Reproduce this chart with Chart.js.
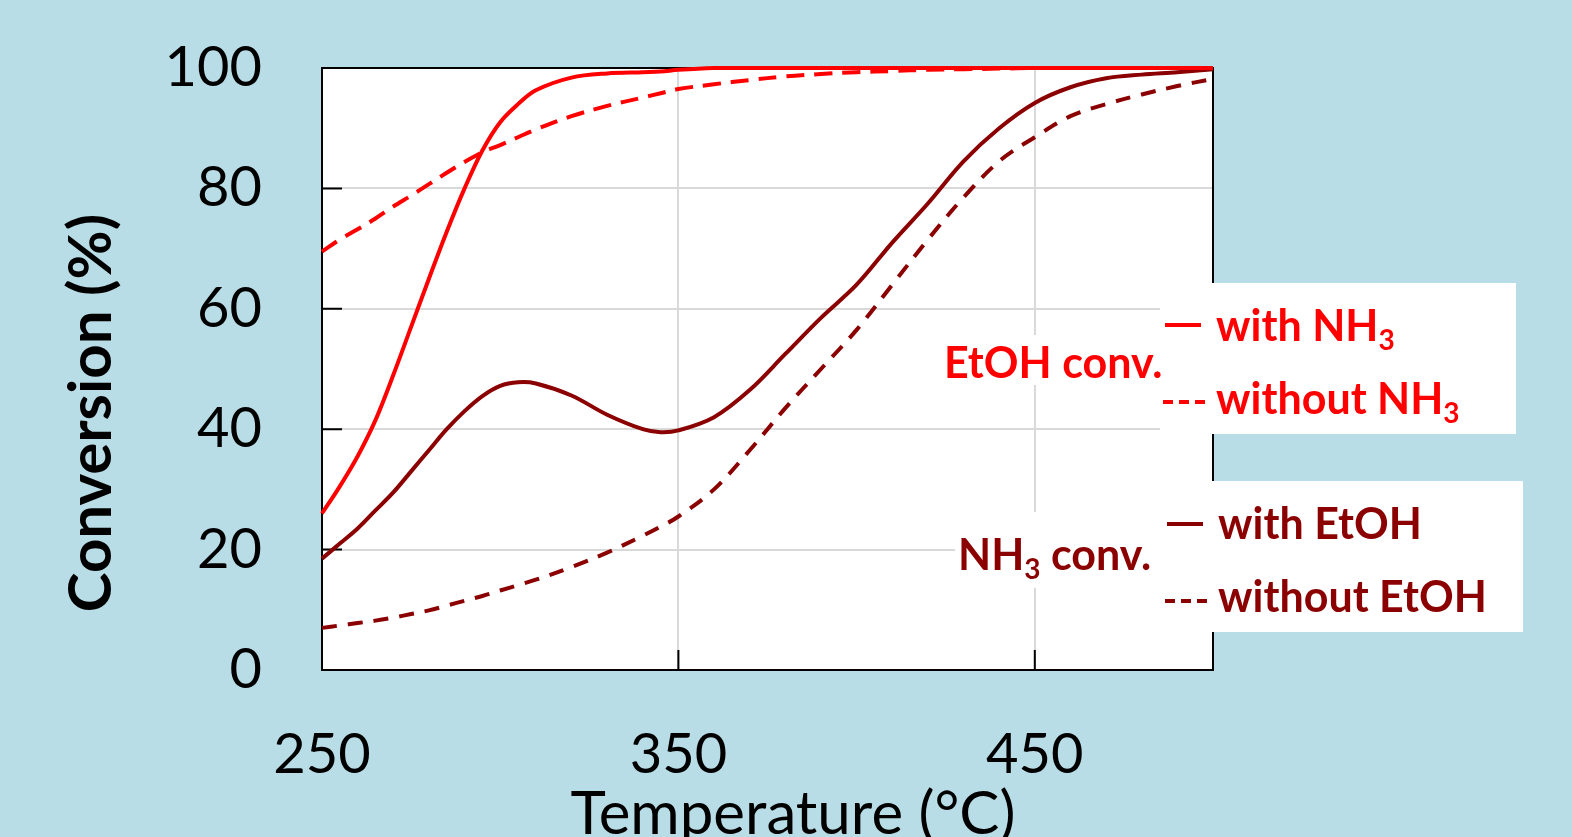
<!DOCTYPE html>
<html>
<head>
<meta charset="utf-8">
<script src="https://cdn.jsdelivr.net/npm/chart.js"></script>
<style>
  html, body { margin: 0; padding: 0; background: #b8dde6; }
  canvas { display: block; }
</style>
</head>
<body>
<canvas id="chart" width="1572" height="837"></canvas>
<script>
// temperatures (°C) where the curves were read
var temps = [250, 255, 260, 265, 270, 275, 280, 285, 290, 295, 300, 305, 310, 320, 330, 340, 345, 350, 360, 370, 380, 390, 400, 410, 420, 430, 440, 450, 460, 470, 480, 490, 500];

// EtOH conversion (%)
var etohWithNH3 = [26, 30.5, 35.5, 41.5, 49, 57, 65, 72.8, 80, 86.3, 91, 94, 96.3, 98.4, 99.1, 99.3, 99.4, 99.7, 100, 100, 100, 100, 100, 100, 100, 100, 100, 100, 100, 100, 100, 100, 100];
var etohWithoutNH3 = [69.5, 71.5, 73.2, 75, 77, 78.8, 80.7, 82.6, 84.4, 86, 87.2, 88.5, 89.8, 92, 93.7, 95.1, 95.8, 96.5, 97.3, 98, 98.6, 99, 99.3, 99.5, 99.7, 99.8, 99.9, 100, 100, 100, 100, 100, 100];

// NH3 conversion (%)
var nh3WithEtOH = [18.5, 21, 23.5, 26.5, 29.5, 33, 36.5, 40, 43, 45.5, 47.2, 47.8, 47.6, 45.6, 42.4, 40, 39.5, 39.8, 42, 46.5, 52.5, 58.5, 64, 71, 77.5, 84.5, 90, 94.2, 96.8, 98.3, 98.9, 99.3, 99.8];
var nh3WithoutEtOH = [7, 7.4, 7.8, 8.2, 8.7, 9.3, 9.9, 10.7, 11.5, 12.3, 13.2, 14.1, 15, 17.1, 19.5, 22.3, 23.8, 25.5, 30, 36.5, 43.5, 50, 56.5, 64, 71.5, 78.5, 84.5, 88.5, 92, 94, 95.6, 97, 98.2];

var xTicks = [250, 350, 450];
var yTicks = [0, 20, 40, 60, 80, 100];

var RED = "#ff0000";
var DARK = "#8b0000";
var FONT = "Lato, 'Open Sans', sans-serif";

function pts(ys) {
  return temps.map(function (t, i) { return { x: t, y: ys[i] }; });
}

function line(label, ys, color, dash) {
  return {
    label: label,
    data: pts(ys),
    borderColor: color,
    borderWidth: 4,
    borderDash: dash || [],
    pointRadius: 0,
    fill: false,
    tension: 0.35,
    clip: 4
  };
}

// text with a subscript "3" after NH
function subText(ctx, parts, x, y, size) {
  parts.forEach(function (p) {
    if (p.sub) {
      ctx.font = "bold " + Math.round(size * 0.65) + "px " + FONT;
      ctx.fillText(p.t, x, y + size * 0.22);
    } else {
      ctx.font = "bold " + size + "px " + FONT;
      ctx.fillText(p.t, x, y);
    }
    x += ctx.measureText(p.t).width;
  });
}

var framePlugin = {
  id: "frame",
  beforeDraw: function (chart) {
    var ctx = chart.ctx, a = chart.chartArea;
    ctx.save();
    ctx.fillStyle = "#b8dde6";
    ctx.fillRect(0, 0, chart.width, chart.height);
    ctx.fillStyle = "#ffffff";
    ctx.fillRect(a.left, a.top, a.right - a.left, a.bottom - a.top);
    ctx.restore();
  },
  beforeDatasetsDraw: function (chart) {
    var ctx = chart.ctx, a = chart.chartArea;
    var xs = chart.scales.x, ys = chart.scales.y;
    ctx.save();
    ctx.strokeStyle = "#000";
    ctx.lineWidth = 2;
    ctx.strokeRect(a.left, a.top, a.right - a.left, a.bottom - a.top);
    ctx.beginPath();
    yTicks.forEach(function (v) {
      var py = ys.getPixelForValue(v);
      ctx.moveTo(a.left, py);
      ctx.lineTo(a.left + 20, py);
    });
    xTicks.forEach(function (v) {
      var px = xs.getPixelForValue(v);
      ctx.moveTo(px, a.bottom);
      ctx.lineTo(px, a.bottom - 20);
    });
    ctx.stroke();
    ctx.restore();
  },
  afterDraw: function (chart) {
    var ctx = chart.ctx;
    ctx.save();
    // axis titles
    ctx.fillStyle = "#000";
    ctx.font = "60px " + FONT;
    ctx.textAlign = "center";
    ctx.textBaseline = "alphabetic";
    ctx.fillText("Temperature (°C)", 793, 834);
    ctx.save();
    ctx.translate(111, 413);
    ctx.rotate(-Math.PI / 2);
    ctx.font = "bold 60px " + FONT;
    ctx.fillText("Conversion (%)", 0, 0);
    ctx.restore();

    // annotation boxes
    ctx.fillStyle = "#ffffff";
    ctx.fillRect(1160, 283, 356, 151);
    ctx.fillRect(940, 335, 223, 50);
    ctx.fillRect(1160, 481, 363, 151);
    ctx.fillRect(955, 512, 205, 76);

    ctx.textAlign = "left";
    ctx.textBaseline = "alphabetic";
    var size = 43;
    ctx.fillStyle = RED;
    subText(ctx, [{ t: "EtOH conv." }], 944, 378, size);
    subText(ctx, [{ t: "with NH" }, { t: "3", sub: 1 }], 1216, 341, size);
    subText(ctx, [{ t: "without NH" }, { t: "3", sub: 1 }], 1216, 414, size);
    ctx.fillStyle = DARK;
    subText(ctx, [{ t: "NH" }, { t: "3", sub: 1 }, { t: " conv." }], 958, 570, size);
    subText(ctx, [{ t: "with EtOH" }], 1218, 539, size);
    subText(ctx, [{ t: "without EtOH" }], 1218, 612, size);

    // line keys
    ctx.lineWidth = 4;
    ctx.strokeStyle = RED;
    ctx.beginPath(); ctx.moveTo(1165, 325); ctx.lineTo(1201, 325); ctx.stroke();
    ctx.setLineDash([10, 6]);
    ctx.beginPath(); ctx.moveTo(1163, 402); ctx.lineTo(1206, 402); ctx.stroke();
    ctx.setLineDash([]);
    ctx.strokeStyle = DARK;
    ctx.beginPath(); ctx.moveTo(1167, 524); ctx.lineTo(1203, 524); ctx.stroke();
    ctx.setLineDash([10, 6]);
    ctx.beginPath(); ctx.moveTo(1165, 601); ctx.lineTo(1208, 601); ctx.stroke();
    ctx.restore();
  }
};

new Chart(document.getElementById("chart").getContext("2d"), {
  type: "line",
  data: {
    datasets: [
      line("EtOH conv. with NH3", etohWithNH3, RED, null),
      line("EtOH conv. without NH3", etohWithoutNH3, RED, [18, 10]),
      line("NH3 conv. with EtOH", nh3WithEtOH, DARK, null),
      line("NH3 conv. without EtOH", nh3WithoutEtOH, DARK, [15, 11])
    ]
  },
  options: {
    responsive: false,
    devicePixelRatio: 1,
    animation: false,
    layout: { padding: { top: 68, right: 359, left: 0, bottom: 0 } },
    plugins: { legend: { display: false }, tooltip: { enabled: false } },
    scales: {
      x: {
        type: "linear",
        min: 250,
        max: 500,
        afterBuildTicks: function (s) { s.ticks = xTicks.map(function (v) { return { value: v }; }); },
        afterFit: function (s) { s.height = 167; s.paddingLeft = 0; s.paddingRight = 0; },
        grid: { color: "#d9d9d9", lineWidth: 2, drawTicks: false },
        border: { display: true, color: "#000", width: 2 },
        ticks: { color: "#000", padding: 51, maxRotation: 0, font: { family: FONT, size: 56 } }
      },
      y: {
        min: 0,
        max: 100,
        afterBuildTicks: function (s) { s.ticks = yTicks.map(function (v) { return { value: v }; }); },
        afterFit: function (s) { s.width = 322; s.paddingTop = 0; s.paddingBottom = 0; },
        grid: { color: "#d9d9d9", lineWidth: 2, drawTicks: false },
        border: { display: true, color: "#000", width: 2 },
        ticks: { color: "#000", padding: 60, font: { family: FONT, size: 56 } }
      }
    }
  },
  plugins: [framePlugin]
});
</script>
</body>
</html>
